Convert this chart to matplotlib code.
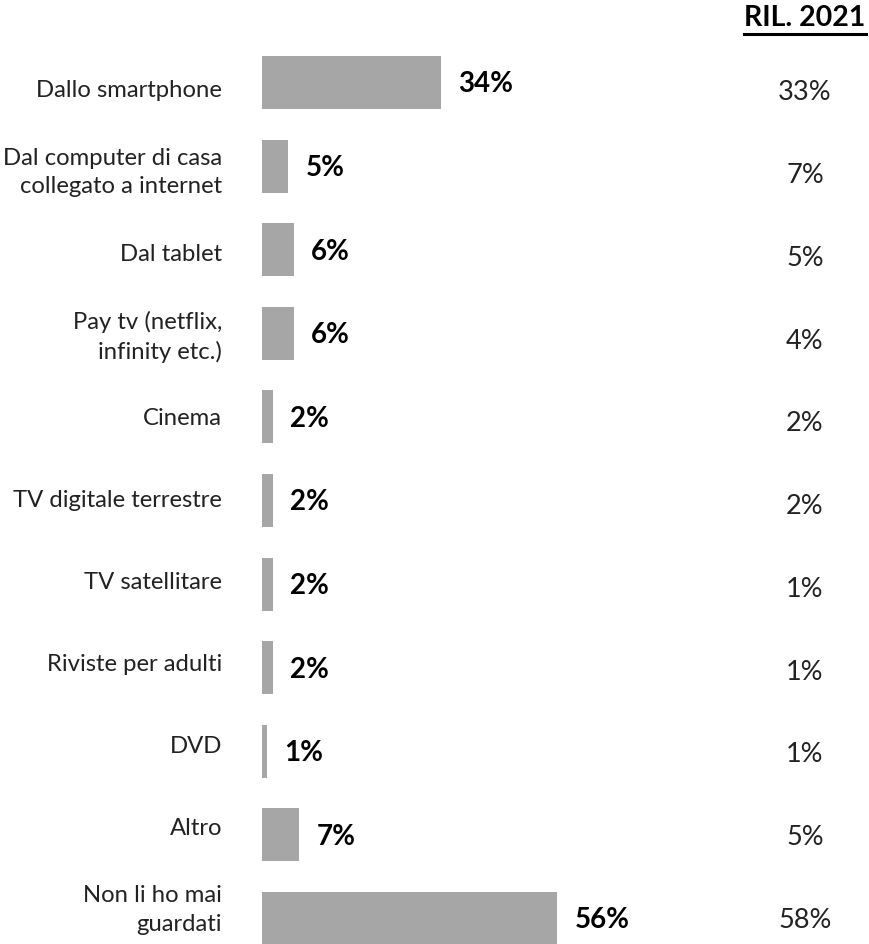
import matplotlib
matplotlib.use("Agg")
import matplotlib.pyplot as plt
from matplotlib.lines import Line2D
import numpy as np

categories = [
    "Dallo smartphone",
    "Dal computer di casa\ncollegato a internet",
    "Dal tablet",
    "Pay tv (netflix,\ninfinity etc.)",
    "Cinema",
    "TV digitale terrestre",
    "TV satellitare",
    "Riviste per adulti",
    "DVD",
    "Altro",
    "Non li ho mai\nguardati",
]
values_current = [34, 5, 6, 6, 2, 2, 2, 2, 1, 7, 56]
values_2021 = [33, 7, 5, 4, 2, 2, 1, 1, 1, 5, 58]
header_2021 = "RIL. 2021"

FONT = ["Lato", "DejaVu Sans"]
plt.rcParams["font.family"] = FONT

W, H = 869, 944
fig = plt.figure(figsize=(W / 100, H / 100), dpi=100)
bar_left_px = 262
ax = fig.add_axes([bar_left_px / W, 0, 1 - bar_left_px / W, 1])

px_per_pct = 5.27
row_px = 83.6
first_center = 82.5
ax.set_xlim(0, (W - bar_left_px) / px_per_pct)
ax.set_ylim((H - first_center) / row_px, -first_center / row_px)
ax.axis("off")

y = np.arange(len(categories))
ax.barh(y, values_current, height=53 / row_px, color="#a6a6a6")

# category labels (label column is slightly tighter than the bar rows)
label_offsets = np.linspace(8.5, -8.5, len(categories)) / row_px
for yi, cat, off in zip(y, categories, label_offsets):
    ax.text(-40 / px_per_pct, yi + off, cat, ha="right", va="center",
            fontsize=17.2, color="#222222", linespacing=1.42, clip_on=False)

# value labels
for yi, v in zip(y, values_current):
    ax.annotate(f"{v}%", xy=(v, yi + 2 / row_px), xytext=(12.5, 0),
                textcoords="offset points", ha="left", va="center",
                fontsize=20, fontweight="bold", color="black")

# 2021 column
col_x = (805 - bar_left_px) / px_per_pct
offsets = np.linspace(10.5, 2.0, len(values_2021)) / row_px
for yi, v, off in zip(y, values_2021, offsets):
    ax.text(col_x, yi + off, f"{v}%", ha="center", va="center",
            fontsize=19.5, color="#222222")

hdr = ax.text(col_x, -(first_center - 18) / row_px, header_2021, ha="center",
              va="center", fontsize=20.5, fontweight="bold", color="black")

fig.canvas.draw()
bb = hdr.get_window_extent()
uy = H - 34
fig.add_artist(Line2D([bb.x0 / W, bb.x1 / W], [uy / H, uy / H],
                      transform=fig.transFigure, color="black", lw=2.2))

fig.savefig("out.png", dpi=100)
